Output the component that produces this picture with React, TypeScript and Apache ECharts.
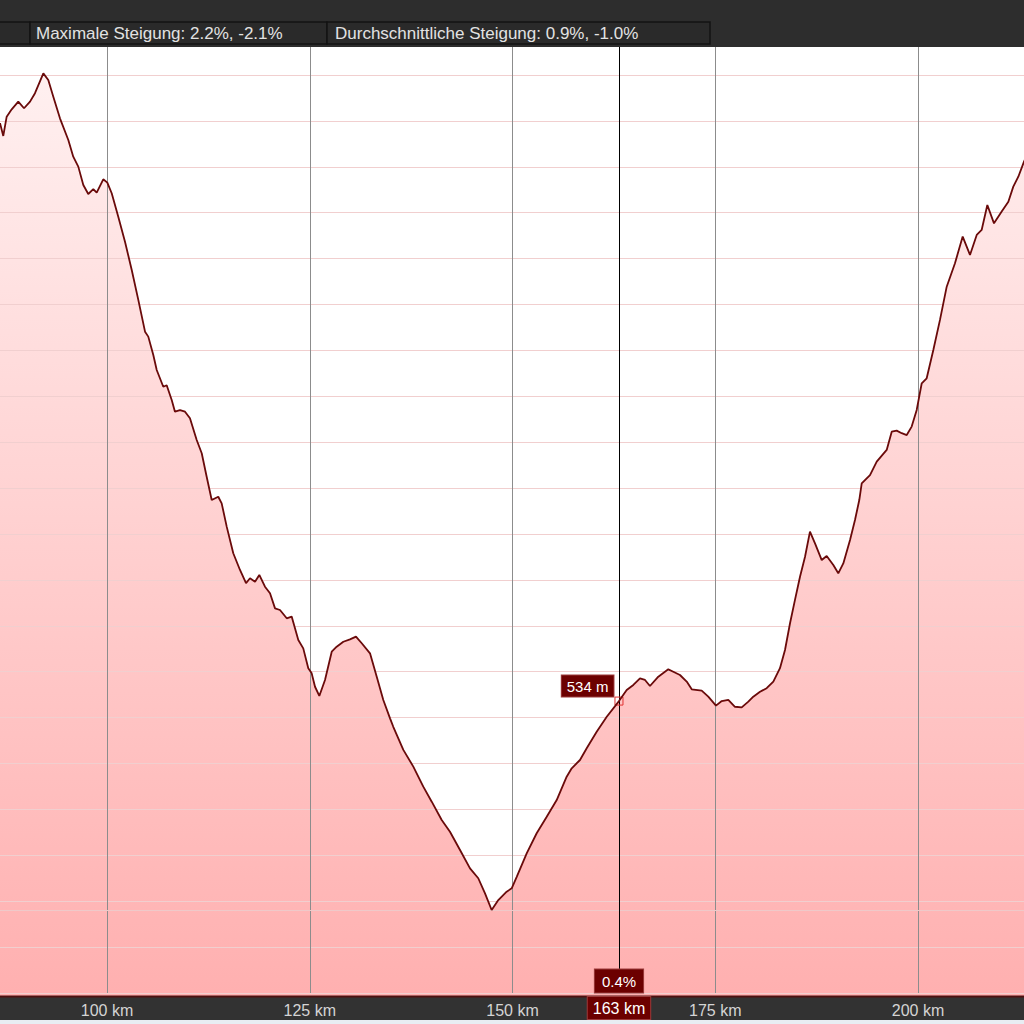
import React, { useEffect, useRef } from "react";
import * as echarts from "echarts";

const distanceKm = [
  86.5, 86.81, 87.21, 87.63, 88.25, 89.06, 89.77, 90.51, 91.12, 92.15, 92.76, 93.38, 94.2, 95.23, 95.84,
  96.46, 97.08, 97.69, 98.31, 98.73, 99.54, 100.04, 100.58, 101.39, 102.22, 103.05, 103.86, 104.69, 105.09,
  105.71, 106.13, 106.94, 107.36, 107.98, 108.38, 109.0, 109.62, 110.23, 111.06, 111.68, 112.29, 112.91,
  113.72, 114.14, 114.76, 115.57, 116.4, 117.14, 117.63, 118.25, 118.78, 119.48, 120.1, 120.72, 121.33,
  122.16, 122.77, 123.59, 124.2, 124.82, 125.24, 125.65, 126.18, 126.88, 127.71, 128.32, 129.14, 129.96,
  130.7, 131.41, 132.43, 133.26, 134.07, 134.9, 135.3, 136.54, 137.77, 139.0, 140.04, 141.27, 142.29,
  143.53, 144.76, 145.78, 146.61, 147.43, 148.25, 149.28, 149.9, 150.52, 151.75, 152.98, 154.22, 155.45,
  156.68, 157.3, 158.32, 159.15, 160.38, 161.62, 163.13, 164.08, 164.9, 165.72, 166.34, 166.95, 167.98,
  169.21, 169.83, 170.65, 171.48, 172.1, 173.33, 174.14, 175.09, 175.8, 176.61, 177.43, 178.26, 179.08,
  179.69, 180.52, 181.34, 182.16, 182.98, 183.6, 184.22, 184.83, 185.45, 186.07, 186.68, 187.3, 188.13,
  188.74, 189.56, 190.17, 190.79, 191.62, 192.23, 192.76, 193.06, 194.08, 194.91, 196.14, 196.76, 197.37,
  197.99, 198.61, 199.22, 199.84, 200.46, 201.07, 201.89, 202.71, 203.54, 204.56, 205.51, 206.41, 207.24,
  207.85, 208.55, 209.37, 210.32, 211.14, 211.75, 212.37, 213.07, 213.6,
];

const elevationM = [
  846, 848.7, 841.8, 852.3, 856.3, 860.5, 856.9, 860.5, 865.1, 875.9, 872.3, 863.2, 851.4, 839.6, 830.5,
  825.1, 815.1, 810.2, 812.8, 810.9, 818.2, 816.4, 810.6, 797.8, 784.2, 768.8, 752.5, 735.2, 732.5,
  722.5, 714.3, 705.2, 706.0, 698.0, 691.6, 692.5, 691.6, 688.0, 676.2, 669.0, 656.2, 643.5,
  645.3, 641.7, 629.0, 614.5, 605.4, 598.2, 600.9, 599.0, 602.7, 596.3, 592.7, 584.5, 583.6,
  579.1, 580.0, 567.3, 562.7, 551.9, 549.1, 541.8, 536.8, 545.5, 560.9, 563.6, 566.3, 567.6,
  569.1, 565.5, 560.0, 547.3, 534.6, 524.6, 520.0, 507.4, 498.3, 487.4, 479.2, 469.2, 462.8,
  452.9, 442.9, 437.5, 429.3, 420.2, 425.6, 430.2, 432.0, 438.3, 451.1, 462.0, 471.0, 480.1,
  492.8, 497.4, 501.9, 508.3, 517.3, 525.5, 534.0, 540.0, 542.8, 546.4, 545.5, 542.2, 547.3,
  551.3, 550.0, 548.2, 544.6, 540.4, 539.7, 536.4, 531.5, 534.0, 534.6, 530.9, 530.6, 533.7,
  536.4, 539.1, 541.0, 544.6, 551.9, 561.8, 576.4, 589.1, 601.7, 612.6, 626.3, 619.9, 610.8,
  613.0, 608.1, 603.6, 609.0, 621.7, 632.6, 643.5, 652.6, 657.1, 664.4, 670.8, 680.7, 681.3,
  679.9, 678.9, 683.5, 692.6, 707.1, 709.8, 725.2, 741.6, 759.7, 772.5, 787.0, 777.0, 787.9,
  790.6, 804.2, 794.2, 800.6, 806.0, 814.2, 819.6, 827.8, 833,
];

const cursorKm = 163.13;
const cursorElevation = 534;
const cursorGrade = "0.4%";
const minElevation = 420.2;
const headerTexts = ["Maximale Steigung: 2.2%, -2.1%", "Durchschnittliche Steigung: 0.9%, -1.0%"];
const distanceUnit = "km";
const elevationUnit = "m";

const FONT = "Liberation Sans";
// the chart canvas is wider than the page so the axis can start at a multiple of its interval
const SHIFT = 96;
const CHART_W = 1217;

export default function App() {
  const ref = useRef<HTMLDivElement>(null);

  useEffect(() => {
    const chart = echarts.init(ref.current!, null, { renderer: "svg" });
    const data = distanceKm.map((k, i) => [k, elevationM[i]]);

    const tag = {
      show: true,
      color: "#ffffff",
      fontFamily: FONT,
      fontSize: 16,
      backgroundColor: "#6c0000",
      borderColor: "#9b3b3b",
      borderWidth: 1,
      padding: [3, 5],
    };

    chart.setOption({
      animation: false,
      backgroundColor: "#ffffff",
      grid: {
        left: 0.25,
        right: 0.25,
        top: 29.1,
        bottom: 31,
        containLabel: false,
        outerBoundsMode: "none",
      },
      xAxis: {
        type: "value",
        min: 75,
        max: 225,
        interval: 25,
        z: 3,
        axisLine: { show: false },
        axisTick: { show: false },
        axisLabel: {
          color: "#d4d4d4",
          fontFamily: FONT,
          fontSize: 16,
          margin: 9,
          showMinLabel: false,
          showMaxLabel: false,
          formatter: (v: number) => `${v} ${distanceUnit}`,
        },
        splitLine: { show: true, lineStyle: { color: "#8c8c8c", width: 1 } },
      },
      yAxis: {
        type: "value",
        min: 375,
        max: 900,
        interval: 25,
        z: 3,
        axisLine: { show: false },
        axisTick: { show: false },
        axisLabel: { show: false },
        splitLine: { show: true, lineStyle: { color: "#f1cfcf", width: 1 } },
      },
      series: [
        {
          type: "line",
          data,
          z: 1,
          silent: true,
          showSymbol: false,
          lineStyle: { width: 0 },
          areaStyle: {
            color: new echarts.graphic.LinearGradient(0, 0, 0, 1, [
              { offset: 0, color: "#fff0f0" },
              { offset: 1, color: "#ffb0b0" },
            ]),
            opacity: 1,
          },
          markLine: {
            silent: true,
            symbol: ["none", "none"],
            data: [
              {
                yAxis: minElevation,
                lineStyle: { color: "#efc9c9", width: 1, type: "solid" },
                label: { show: false },
              },
            ],
          },
        },
        {
          type: "line",
          data,
          z: 5,
          silent: true,
          showSymbol: false,
          lineStyle: { color: "#6a0a0a", width: 1.8 },
          markLine: {
            silent: true,
            symbol: ["none", "none"],
            data: [
              {
                xAxis: cursorKm,
                lineStyle: { color: "#000000", width: 1, type: "solid" },
                label: {
                  ...tag,
                  position: "start",
                  distance: 4,
                  formatter: `${Math.round(cursorKm)} ${distanceUnit}`,
                },
              },
            ],
          },
          markPoint: {
            silent: true,
            data: [
              {
                coord: [cursorKm, cursorElevation],
                symbol: "rect",
                symbolSize: 8,
                itemStyle: { color: "rgba(255,255,255,0)", borderColor: "#e03030", borderWidth: 1 },
                label: {
                  ...tag,
                  fontSize: 15,
                  position: "left",
                  distance: 1,
                  offset: [0, -15],
                  formatter: `${cursorElevation} ${elevationUnit}`,
                },
              },
              {
                coord: [cursorKm, 375],
                symbol: "circle",
                symbolSize: 1,
                itemStyle: { color: "rgba(0,0,0,0)" },
                label: {
                  ...tag,
                  fontSize: 15,
                  padding: [4, 7],
                  position: "top",
                  distance: 0,
                  formatter: cursorGrade,
                },
              },
            ],
          },
        },
      ],
      graphic: [
        {
          type: "group",
          x: SHIFT,
          y: 0,
          children: [
            { type: "rect", z: 100, shape: { x: 0, y: 0, width: 1024, height: 47 }, style: { fill: "#2d2d2d" } },
            { type: "rect", z: 101, shape: { x: -5, y: 22, width: 35, height: 22 }, style: { fill: "#2a2a2a", stroke: "#131313", lineWidth: 1.5 } },
            { type: "rect", z: 101, shape: { x: 30, y: 22, width: 297, height: 22 }, style: { fill: "#2a2a2a", stroke: "#131313", lineWidth: 1.5 } },
            { type: "rect", z: 101, shape: { x: 327, y: 22, width: 383, height: 22 }, style: { fill: "#2a2a2a", stroke: "#131313", lineWidth: 1.5 } },
            {
              type: "text",
              z: 102,
              x: 36,
              y: 33,
              style: { text: headerTexts[0], fill: "#e2e2e2", font: `17px "${FONT}"`, verticalAlign: "middle" },
            },
            {
              type: "text",
              z: 102,
              x: 335,
              y: 33,
              style: { text: headerTexts[1], fill: "#e2e2e2", font: `17px "${FONT}"`, verticalAlign: "middle" },
            },
            { type: "rect", z: 2, shape: { x: 0, y: 993, width: 1024, height: 3 }, style: { fill: "#ffb0b0" } },
            { type: "rect", z: 2, shape: { x: 0, y: 996, width: 1024, height: 24 }, style: { fill: "#323232" } },
            { type: "line", z: 2, shape: { x1: 0, y1: 996.5, x2: 1024, y2: 996.5 }, style: { stroke: "#4e1010", lineWidth: 2 } },
            { type: "rect", z: 2, shape: { x: 0, y: 1020, width: 1024, height: 4 }, style: { fill: "#e8edf3" } },
          ],
        },
      ],
    });

    return () => chart.dispose();
  }, []);

  return (
    <div style={{ position: "fixed", left: 0, top: 0, width: 1024, height: 1024, overflow: "hidden" }}>
      <div
        ref={ref}
        style={{ position: "absolute", left: -SHIFT, top: 0, width: CHART_W, height: 1024 }}
      />
    </div>
  );
}
